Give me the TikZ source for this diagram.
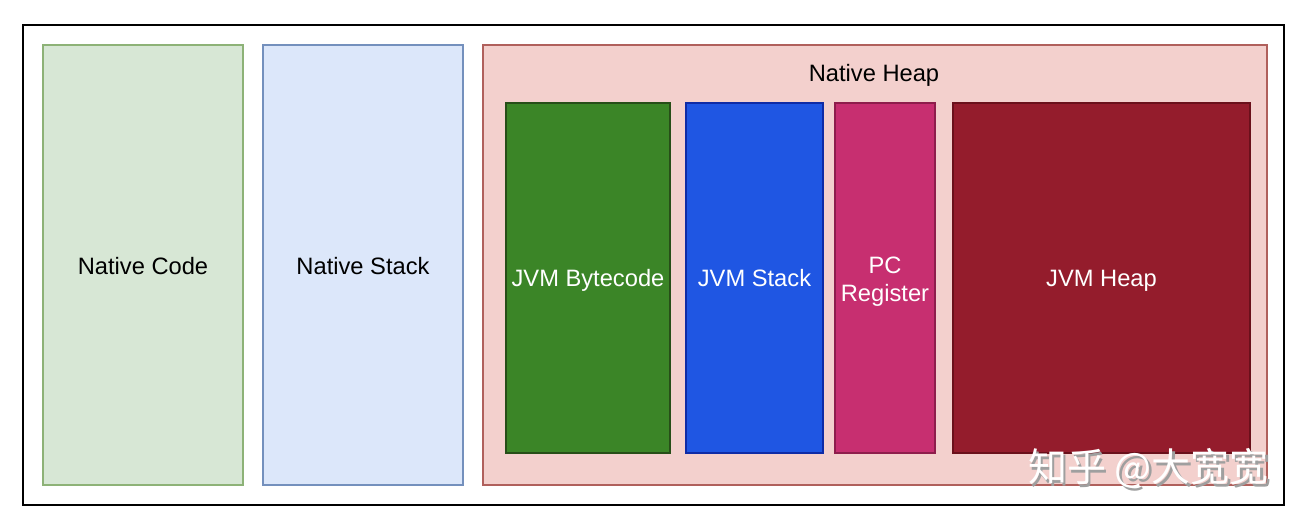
\documentclass[tikz,border=0pt]{standalone}
\usepackage{fontspec}
\setmainfont{Liberation Sans}
\newfontfamily\cjk{Noto Sans CJK SC}
\begin{document}
\begin{tikzpicture}[x=1pt,y=-1pt,
  lbl/.style={font=\fontsize{23.7}{28.7}\selectfont, align=center, anchor=base, inner sep=0pt},
  wmk/.style={font=\cjk\fontsize{39}{42}\selectfont, inner sep=0pt}]
\definecolor{gF}{HTML}{D7E7D5}\definecolor{gS}{HTML}{8DB277}
\definecolor{bF}{HTML}{DCE7FA}\definecolor{bS}{HTML}{7490BD}
\definecolor{rF}{HTML}{F3D0CD}\definecolor{rS}{HTML}{B0605C}
\definecolor{jgF}{HTML}{3B8527}\definecolor{jgS}{HTML}{274E18}
\definecolor{jbF}{HTML}{1F56E3}\definecolor{jbS}{HTML}{0E2BA6}
\definecolor{jpF}{HTML}{C72F70}\definecolor{jpS}{HTML}{8E1D4C}
\definecolor{jrF}{HTML}{941C2C}\definecolor{jrS}{HTML}{6A101B}
\useasboundingbox (0,0) rectangle (1306,524);
\fill[white] (0,0) rectangle (1306,524);
\draw[line width=2pt] (22.5,25) rectangle (1284,505);
\draw[fill=gF, draw=gS, line width=1.5pt] (43,45) rectangle (243,485);
\node[lbl] (nc) at (143,274) {Native Code};
\draw[fill=bF, draw=bS, line width=1.5pt] (263,45) rectangle (463,485);
\node[lbl] (ns) at (363,274) {Native Stack};
\draw[fill=rF, draw=rS, line width=1.5pt] (483,45) rectangle (1267,485);
\node[lbl] (nh) at (874,81.5) {Native Heap};
\draw[fill=jgF, draw=jgS, line width=1.5pt] (506,103) rectangle (670,453);
\node[lbl, text=white] (jb) at (588,286.5) {JVM Bytecode};
\draw[fill=jbF, draw=jbS, line width=1.5pt] (686,103) rectangle (823,453);
\node[lbl, text=white] (js) at (754.5,286.5) {JVM Stack};
\draw[fill=jpF, draw=jpS, line width=1.5pt] (835,103) rectangle (935,453);
\node[lbl, text=white] (pc) at (885,301.7) {PC\\Register};
\draw[fill=jrF, draw=jrS, line width=1.5pt] (953,103) rectangle (1250,453);
\node[lbl, text=white] (jh) at (1101.5,286.5) {JVM Heap};
\node[wmk, text=gray!75] at (1151,471) {知乎 @大宽宽};
\node[wmk, text=white] (wm) at (1148.5,468.5) {知乎 @大宽宽};
\end{tikzpicture}
\end{document}
